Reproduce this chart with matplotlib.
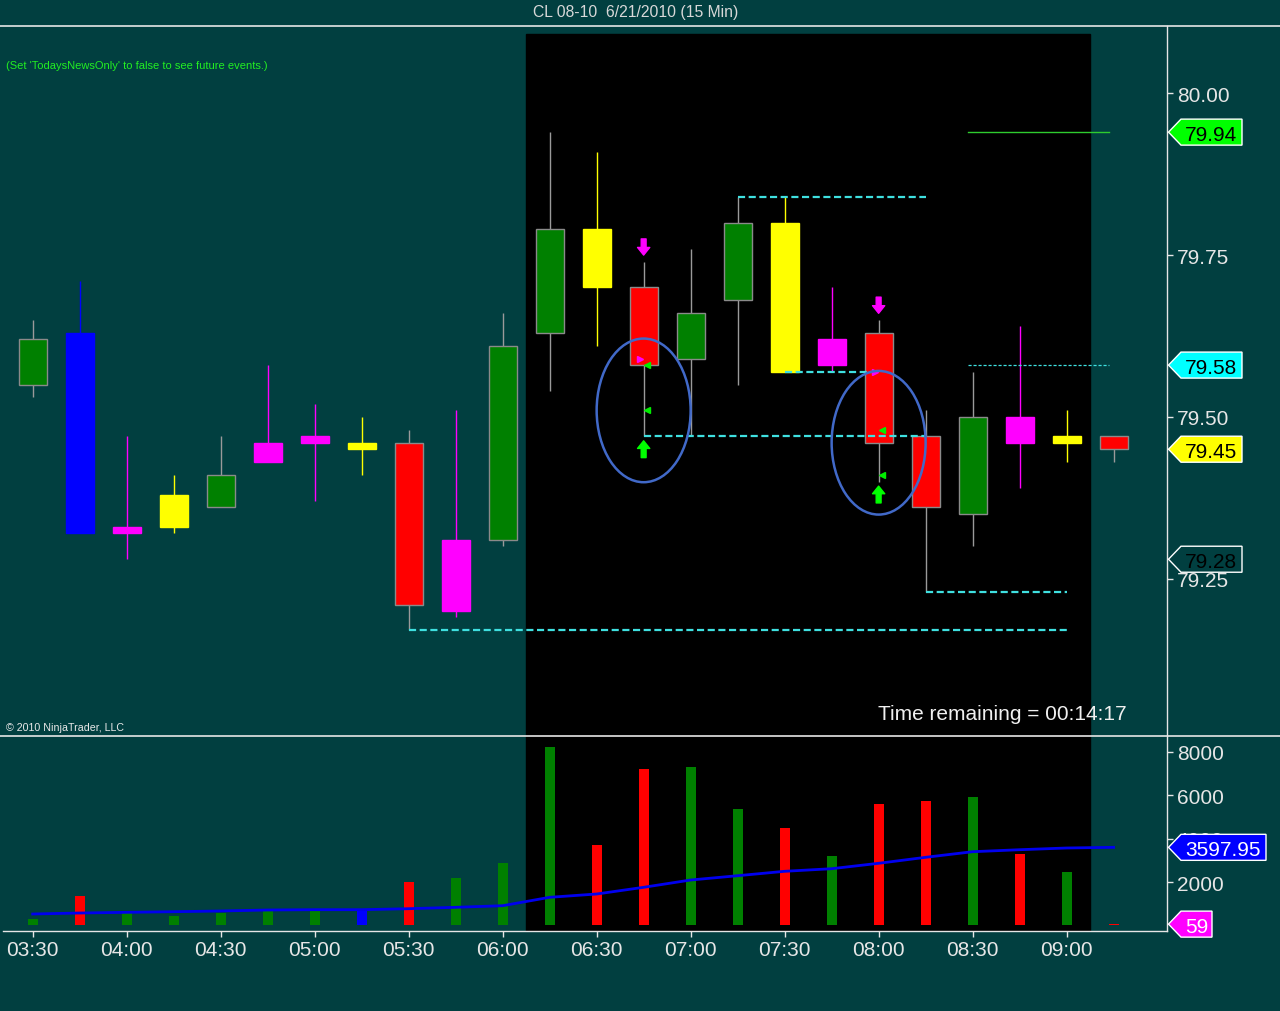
"""CL 08-10 15-min chart, NinjaTrader look: candles on top, volume + SMA below."""

import matplotlib
matplotlib.use("Agg")
import matplotlib.pyplot as plt
from matplotlib.lines import Line2D
from matplotlib.patches import Ellipse, Polygon, Rectangle
from matplotlib.transforms import IdentityTransform

# ---------------------------------------------------------------------------
# Data
# ---------------------------------------------------------------------------

TIMES = ["03:30", "03:45", "04:00", "04:15", "04:30", "04:45", "05:00", "05:15",
         "05:30", "05:45", "06:00", "06:15", "06:30", "06:45", "07:00", "07:15",
         "07:30", "07:45", "08:00", "08:15", "08:30", "08:45", "09:00", "09:15"]

OPEN = [79.55, 79.63, 79.32, 79.33, 79.36, 79.43, 79.46, 79.46,
        79.46, 79.20, 79.31, 79.63, 79.79, 79.70, 79.59, 79.68,
        79.80, 79.58, 79.63, 79.47, 79.35, 79.50, 79.46, 79.47]
HIGH = [79.65, 79.71, 79.47, 79.41, 79.47, 79.58, 79.52, 79.50,
        79.48, 79.51, 79.66, 79.94, 79.91, 79.74, 79.76, 79.84,
        79.84, 79.70, 79.65, 79.51, 79.57, 79.64, 79.51, 79.47]
LOW = [79.53, 79.32, 79.28, 79.32, 79.36, 79.43, 79.37, 79.41,
       79.17, 79.19, 79.30, 79.54, 79.61, 79.47, 79.47, 79.55,
       79.57, 79.57, 79.40, 79.23, 79.30, 79.39, 79.43, 79.43]
CLOSE = [79.62, 79.32, 79.33, 79.38, 79.41, 79.46, 79.47, 79.45,
         79.21, 79.31, 79.61, 79.79, 79.70, 79.58, 79.66, 79.80,
         79.57, 79.62, 79.46, 79.36, 79.50, 79.46, 79.47, 79.45]
BAR_COLORS = ["g", "b", "m", "y", "g", "m", "m", "y",
              "r", "m", "g", "g", "y", "r", "g", "g",
              "y", "m", "r", "r", "g", "m", "y", "r"]

VOLUME = [300, 1350, 600, 430, 560, 750, 760, 680,
          2000, 2180, 2880, 8210, 3700, 7210, 7300, 5360,
          4490, 3200, 5590, 5730, 5920, 3290, 2460, 59]
VOLUME_COLORS = ["g", "r", "g", "g", "g", "g", "g", "b",
                 "r", "g", "g", "g", "r", "r", "g", "g",
                 "r", "g", "r", "r", "g", "r", "g", "r"]
VOLUME_SMA = [525, 571, 603, 631, 664, 710, 724, 724,
              770, 834, 908, 1295, 1447, 1756, 2092, 2290,
              2493, 2613, 2862, 3138, 3396, 3488, 3567, 3597.95]

# signal bars with the hand-drawn circles
SIGNAL_BARS = [13, 18]
CIRCLE_PRICES = [79.51, 79.46]
SHORT_MARKS = [79.59, 79.57]
LONG_MARKS = [[79.58, 79.51], [79.48, 79.41]]

# dashed cyan levels
LEVEL_PRICES = [79.17, 79.47, 79.84, 79.57, 79.23]
LEVEL_START = [8, 13, 15, 16, 19]
LEVEL_END = [22, 19, 19, 18, 22]

DAY_HIGH = 79.94
PIVOT = 79.58
BLANK_MARK = 79.28

PRICE_TICKS = [79.25, 79.50, 79.75, 80.00]
VOLUME_TICKS = [2000, 4000, 6000, 8000]

# ---------------------------------------------------------------------------
# Style
# ---------------------------------------------------------------------------

BG = "#013f40"
FG = "#e6e6e6"
CYAN = "#3fe0e0"
PALETTE = {"g": "#008000", "r": "#ff0000", "y": "#ffff00", "m": "#ff00ff", "b": "#0000ff"}

W, H = 1280, 1012
AXIS_X = 1167          # px of the right price scale
XLIM = (-0.632, 24.136)
PRICE_LIM = (79.0073, 80.104)
VOLUME_LIM = (-244, 8742)
SESSION = (10.5, 22.5)
PIVOT_SPAN = (19.9, 22.9)

plt.rcParams["font.family"] = ["Liberation Sans", "DejaVu Sans"]

ARROW = "simple,head_length=0.5,head_width=0.8,tail_width=0.32"


def px_box(top, bottom):
    """Axes rect from pixel rows (measured from the top)."""
    return [3 / W, 1 - bottom / H, (AXIS_X - 3) / W, (bottom - top) / H]


def style_axis(ax, ylim, yticks, ylabels):
    ax.set_facecolor(BG)
    ax.set_xlim(*XLIM)
    ax.set_ylim(*ylim)
    for side in ("top", "left"):
        ax.spines[side].set_visible(False)
    for side in ("right", "bottom"):
        ax.spines[side].set_color(FG)
        ax.spines[side].set_linewidth(1)
    ax.yaxis.tick_right()
    ax.set_yticks(yticks)
    ax.set_yticklabels(ylabels)
    ax.tick_params(axis="y", colors=FG, labelcolor=FG, labelsize=15,
                   direction="out", length=4, width=1, pad=3)


def axis_marker(fig, ax, value, text, face, text_color, right_px):
    y = ax.transData.transform((0, value))[1]
    tip, left, h = AXIS_X + 1.5, AXIS_X + 14, 13
    pts = [(tip, y), (left, y + h), (right_px, y + h), (right_px, y - h), (left, y - h)]
    fig.add_artist(Polygon(pts, closed=True, transform=IdentityTransform(),
                           facecolor=face, edgecolor="white", linewidth=1, zorder=5))
    fig.text(AXIS_X + 18, y, text, transform=IdentityTransform(), ha="left",
             va="center_baseline", fontsize=15, color=text_color, zorder=6)


def main() -> None:
    fig = plt.figure(figsize=(W / 100, H / 100), dpi=100, facecolor=BG)
    ax_p = fig.add_axes(px_box(27, 736.7))
    ax_v = fig.add_axes(px_box(736.7, 931.7))

    n = len(TIMES)
    idx = list(range(n))

    # ------------------------------------------------------------------
    # Price panel
    # ------------------------------------------------------------------
    style_axis(ax_p, PRICE_LIM, PRICE_TICKS, [f"{t:.2f}" for t in PRICE_TICKS])
    ax_p.spines["bottom"].set_visible(False)
    ax_p.set_xticks([])
    ax_p.axvspan(*SESSION, ymin=0, ymax=0.9887, color="black", zorder=0)

    for i in idx:
        c = PALETTE[BAR_COLORS[i]]
        plain = BAR_COLORS[i] in ("g", "r")
        wick = "#9a9a9a" if plain else c
        ax_p.vlines(i, LOW[i], HIGH[i], color=wick, linewidth=1, zorder=2)
        lo, hi = min(OPEN[i], CLOSE[i]), max(OPEN[i], CLOSE[i])
        ax_p.add_patch(Rectangle((i - 0.3, lo), 0.6, hi - lo, facecolor=c,
                                 edgecolor="#8a8a8a" if plain else c,
                                 linewidth=1, zorder=3))

    for p, a, b in zip(LEVEL_PRICES, LEVEL_START, LEVEL_END):
        ax_p.plot([a, b], [p, p], color=CYAN, linewidth=1.6,
                  linestyle=(0, (3.2, 1.6)), zorder=4)
    ax_p.plot(PIVOT_SPAN, [DAY_HIGH, DAY_HIGH], color="#2ecc2e", linewidth=1, zorder=4)
    ax_p.plot(PIVOT_SPAN, [PIVOT, PIVOT], color=CYAN, linewidth=0.9,
              linestyle=(0, (2.5, 1.5)), zorder=4)

    # signal arrows, triangles and circles
    for k, i in enumerate(SIGNAL_BARS):
        ax_p.annotate("", xy=(i, HIGH[i] + 0.010), xytext=(i, HIGH[i] + 0.035),
                      arrowprops=dict(arrowstyle=ARROW, color="#ff00ff", shrinkA=0,
                                      shrinkB=0, mutation_scale=11), zorder=6)
        ax_p.annotate("", xy=(i, LOW[i] - 0.007), xytext=(i, LOW[i] - 0.033),
                      arrowprops=dict(arrowstyle=ARROW, color="#00ff00", shrinkA=0,
                                      shrinkB=0, mutation_scale=11), zorder=6)
        ax_p.plot(i - 0.07, SHORT_MARKS[k], marker=">", markersize=5, color="#ff00ff",
                  linestyle="none", zorder=6)
        ax_p.plot([i + 0.07] * len(LONG_MARKS[k]), LONG_MARKS[k], marker="<", markersize=5,
                  color="#00ee00", linestyle="none", zorder=6)
        ax_p.add_patch(Ellipse((i, CIRCLE_PRICES[k]), width=2.0, height=0.222, fill=False,
                               edgecolor="#4169c8", linewidth=1.8, zorder=7))

    # ------------------------------------------------------------------
    # Volume panel
    # ------------------------------------------------------------------
    style_axis(ax_v, VOLUME_LIM, VOLUME_TICKS, [str(t) for t in VOLUME_TICKS])
    ax_v.axvspan(*SESSION, color="black", zorder=0)
    ax_v.bar(idx, VOLUME, width=0.21, color=[PALETTE[c] for c in VOLUME_COLORS], zorder=2)
    ax_v.plot(idx, VOLUME_SMA, color="#0000ee", linewidth=2, zorder=3)
    ax_v.set_xticks(idx[::2])
    ax_v.set_xticklabels(TIMES[::2])
    ax_v.tick_params(axis="x", colors=FG, labelcolor=FG, labelsize=15,
                     direction="out", length=4, width=1, pad=2.5)

    # ------------------------------------------------------------------
    # Frame lines, markers and text
    # ------------------------------------------------------------------
    for y in (27, 736.7):
        fig.add_artist(Line2D([0, 1], [1 - y / H] * 2, color=FG, linewidth=1.2,
                              transform=fig.transFigure))

    fig.canvas.draw()
    for value, face, tc in [(DAY_HIGH, "#00ff00", "black"), (PIVOT, "#00ffff", "black"),
                            (CLOSE[-1], "#ffff00", "black"), (BLANK_MARK, BG, "black")]:
        axis_marker(fig, ax_p, value, f"{value:.2f}", face, tc, 1242)
    axis_marker(fig, ax_v, VOLUME_SMA[-1], f"{VOLUME_SMA[-1]:.2f}", "#0000ff", "white", 1266)
    axis_marker(fig, ax_v, VOLUME[-1], str(VOLUME[-1]), "#ff00ff", "white", 1212)

    fig.text(636 / W, 1 - 13 / H, "CL 08-10  6/21/2010 (15 Min)", ha="center",
             va="center", fontsize=11.3, color="#d8d8d8")
    fig.text(6 / W, 1 - 66 / H, "(Set 'TodaysNewsOnly' to false to see future events.)",
             ha="left", va="center", fontsize=8, color="#22ee22")
    fig.text(6 / W, 1 - 728 / H, "\u00a9 2010 NinjaTrader, LLC", ha="left", va="center",
             fontsize=7.7, color="#e8e8e8")
    fig.text(1127 / W, 1 - 714 / H, "Time remaining = 00:14:17", ha="right", va="center",
             fontsize=15, color="#f0f0f0")

    fig.savefig("out.png", dpi=100, facecolor=BG)


if __name__ == "__main__":
    main()
